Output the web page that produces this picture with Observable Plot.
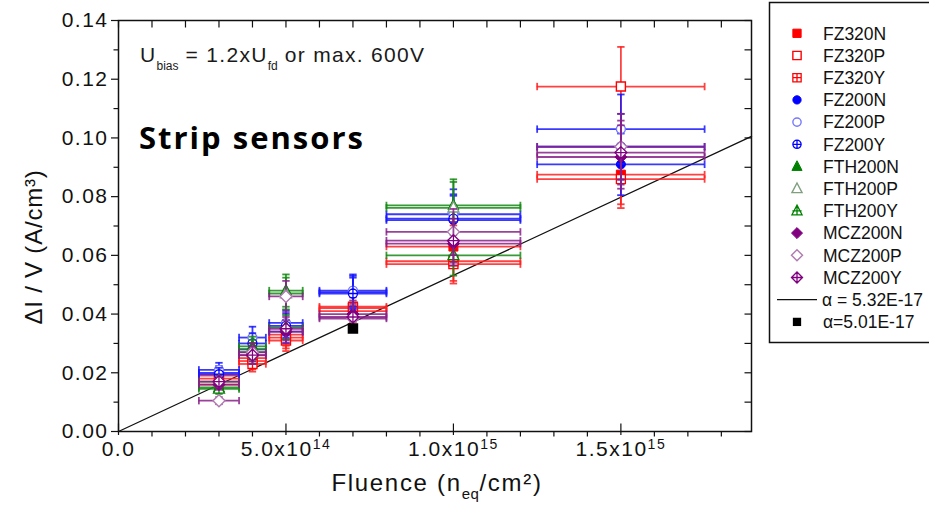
<!DOCTYPE html>
<html>
<head>
<meta charset="utf-8">
<script src="https://cdn.jsdelivr.net/npm/d3@7"></script>
<script src="https://cdn.jsdelivr.net/npm/@observablehq/plot@0.6"></script>
<style>
  html, body { margin: 0; padding: 0; background: #fff; }
  #chart svg { display: block; }
</style>
</head>
<body>
<div id="chart"></div>
<script>
// Leakage current per volume (ΔI/V) versus fluence for irradiated strip sensors.

// Fluence points (n_eq/cm²) and their horizontal uncertainties
const fluences   = [3e14, 4e14, 5e14, 7e14, 1e15, 1.5e15];
const fluenceErr = [6e13, 4e13, 5e13, 1e14, 2e14, 2.5e14];

// ΔI/V (A/cm³) per sensor type; null = not measured
const FZ320N  = [0.016,  0.024, 0.032,  0.041,  0.063,  0.0875];
const FZ320P  = [0.018,  0.025, 0.031,  0.042,  0.057,  0.1175];
const FZ320Y  = [0.019,  0.023, 0.033,  0.0425, 0.058,  0.086];
const FZ200N  = [0.020,  0.028, 0.034,  0.0475, 0.072,  0.091];
const FZ200P  = [0.021,  0.032, 0.037,  0.048,  0.074,  0.103];
const FZ200Y  = [0.0195, 0.030, 0.036,  0.047,  0.0725, 0.097];
const FTH200N = [0.015,  0.029, 0.048,  null,   0.077,  null];
const FTH200P = [0.017,  0.027, 0.047,  null,   0.0762, null];
const FTH200Y = [0.0145, 0.028, 0.0355, null,   0.060,  null];
const MCZ200N = [0.016,  0.026, 0.034,  0.040,  0.064,  0.0935];
const MCZ200P = [0.0105, 0.027, 0.046,  0.0385, 0.068,  0.097];
const MCZ200Y = [0.017,  0.026, 0.035,  0.039,  0.065,  0.095];

// Vertical uncertainties (A/cm³)
const FZ320N_err  = [0.0018, 0.0028, 0.0037, 0.0047, 0.0072, 0.0101];
const FZ320P_err  = [0.0021, 0.0029, 0.0036, 0.0048, 0.0066, 0.0135];
const FZ320Y_err  = [0.0022, 0.0026, 0.0038, 0.0049, 0.0067, 0.0099];
const FZ200N_err  = [0.0023, 0.0032, 0.0039, 0.0055, 0.0083, 0.0105];
const FZ200P_err  = [0.0024, 0.0037, 0.0043, 0.0055, 0.0085, 0.0118];
const FZ200Y_err  = [0.0022, 0.0035, 0.0041, 0.0054, 0.0083, 0.0112];
const FTH200N_err = [0.0017, 0.0033, 0.0055, null,   0.0089, null];
const FTH200P_err = [0.0020, 0.0031, 0.0054, null,   0.0088, null];
const FTH200Y_err = [0.0017, 0.0032, 0.0041, null,   0.0069, null];
const MCZ200N_err = [0.0018, 0.0030, 0.0039, 0.0046, 0.0074, 0.0108];
const MCZ200P_err = [0.0012, 0.0031, 0.0053, 0.0044, 0.0078, 0.0112];
const MCZ200Y_err = [0.0020, 0.0030, 0.0040, 0.0045, 0.0075, 0.0109];

// Current-related damage rates
const alphaFit = 5.32e-17;          // fitted line
const alphaPoint = 5.01e-17;        // single reference measurement
const alphaPointFluence = 7e14;
const alphaFitLabel = "α = 5.32E-17";
const alphaPointLabel = "α=5.01E-17";

// Axes
const xDomain = [0, 1.89e15];
const yDomain = [0, 0.14];
const xMajorTicks = [0, 5e14, 1e15, 1.5e15];
const xTickLabels = ["0.0", "5.0x10^14", "1.0x10^15", "1.5x10^15"];
const xMinorTicks = d3.range(1, 19).map(k => k * 1e14).filter(v => !xMajorTicks.includes(v));
const xAllTicks = d3.range(0, 19).map(k => k * 1e14);
const yMajorTicks = [0, 0.02, 0.04, 0.06, 0.08, 0.10, 0.12, 0.14];
const yTickLabels = ["0.00", "0.02", "0.04", "0.06", "0.08", "0.10", "0.12", "0.14"];
const yMinorTicks = [0.01, 0.03, 0.05, 0.07, 0.09, 0.11, 0.13];
const yAllTicks = d3.range(0, 15).map(k => k / 100);

const xTitle = ["Fluence (n", "eq", "/cm²)"];
const yTitle = "ΔI / V (A/cm³)";
const biasNote = ["U", "bias", " = 1.2xU", "fd", " or max. 600V"];
const panelTitle = "Strip sensors";

// ---- marker shapes (radius a = sqrt(size/π)) ----
const rad = size => Math.sqrt(size / Math.PI);
const hLine = { draw(c, s) { const l = rad(s); c.moveTo(-l, 0); c.lineTo(l, 0); } };
const vLine = { draw(c, s) { const l = rad(s); c.moveTo(0, -l); c.lineTo(0, l); } };
function squarePath(c, a) { const h = a * 0.9; c.moveTo(-h, -h); c.lineTo(h, -h); c.lineTo(h, h); c.lineTo(-h, h); c.closePath(); return h; }
function circlePath(c, a) { const h = a * 0.9; c.moveTo(h, 0); c.arc(0, 0, h, 0, 2 * Math.PI); c.closePath(); return h; }
function trianglePath(c, a) { const w = a * 1.1, t = a * 1.25, b = a * 0.85; c.moveTo(0, -t); c.lineTo(w, b); c.lineTo(-w, b); c.closePath(); return a; }
function diamondPath(c, a) { const h = a * 1.2; c.moveTo(0, -h); c.lineTo(h, 0); c.lineTo(0, h); c.lineTo(-h, 0); c.closePath(); return h; }
function plusPath(c, h) { c.moveTo(-h, 0); c.lineTo(h, 0); c.moveTo(0, -h); c.lineTo(0, h); }
const shapes = { square: squarePath, circle: circlePath, triangle: trianglePath, diamond: diamondPath };
function makeSymbol(shape, crossed) {
  return { draw(c, s) { const h = shapes[shape](c, rad(s)); if (crossed) plusPath(c, h); } };
}

const palette = {
  red:    { main: "#ff0000", bar: "#ff2020", open: "#ff0000" },
  blue:   { main: "#0000ff", bar: "#1818ff", open: "#7878ff" },
  green:  { main: "#008000", bar: "#158a15", open: "#7fa07f" },
  purple: { main: "#800080", bar: "#882088", open: "#b07ab0" }
};

const series = [
  { name: "FZ320N",  values: FZ320N,  errors: FZ320N_err,  color: "red",    shape: "square",   kind: "N" },
  { name: "FZ320P",  values: FZ320P,  errors: FZ320P_err,  color: "red",    shape: "square",   kind: "P" },
  { name: "FZ320Y",  values: FZ320Y,  errors: FZ320Y_err,  color: "red",    shape: "square",   kind: "Y" },
  { name: "FZ200N",  values: FZ200N,  errors: FZ200N_err,  color: "blue",   shape: "circle",   kind: "N" },
  { name: "FZ200P",  values: FZ200P,  errors: FZ200P_err,  color: "blue",   shape: "circle",   kind: "P" },
  { name: "FZ200Y",  values: FZ200Y,  errors: FZ200Y_err,  color: "blue",   shape: "circle",   kind: "Y" },
  { name: "FTH200N", values: FTH200N, errors: FTH200N_err, color: "green",  shape: "triangle", kind: "N" },
  { name: "FTH200P", values: FTH200P, errors: FTH200P_err, color: "green",  shape: "triangle", kind: "P" },
  { name: "FTH200Y", values: FTH200Y, errors: FTH200Y_err, color: "green",  shape: "triangle", kind: "Y" },
  { name: "MCZ200N", values: MCZ200N, errors: MCZ200N_err, color: "purple", shape: "diamond",  kind: "N" },
  { name: "MCZ200P", values: MCZ200P, errors: MCZ200P_err, color: "purple", shape: "diamond",  kind: "P" },
  { name: "MCZ200Y", values: MCZ200Y, errors: MCZ200Y_err, color: "purple", shape: "diamond",  kind: "Y" }
];

function markerStyle(s) {
  const p = palette[s.color];
  if (s.kind === "N") return { fill: p.main, stroke: p.main, strokeWidth: 1 };
  if (s.kind === "P") return { fill: "white", stroke: p.open, strokeWidth: 1.4 };
  return { fill: "white", stroke: p.main, strokeWidth: 1.3 };
}

const markerR = 5;
const capR = 3.7;

const seriesMarks = series.flatMap(s => {
  const p = palette[s.color];
  const rows = fluences.map((f, i) => ({ f, fe: fluenceErr[i], v: s.values[i], e: s.errors[i] }))
    .filter(d => d.v != null);
  const yCaps = rows.flatMap(d => [{ x: d.f, y: d.v - d.e }, { x: d.f, y: d.v + d.e }]);
  const xCaps = rows.flatMap(d => [{ x: d.f - d.fe, y: d.v }, { x: d.f + d.fe, y: d.v }]);
  const bar = { stroke: p.bar, strokeWidth: 1.8, strokeOpacity: 0.85 };
  const sym = makeSymbol(s.shape, s.kind === "Y");
  return [
    Plot.ruleY(rows, { y: "v", x1: d => d.f - d.fe, x2: d => d.f + d.fe, ...bar }),
    Plot.ruleX(rows, { x: "f", y1: d => d.v - d.e, y2: d => d.v + d.e, ...bar }),
    Plot.dot(yCaps, { x: "x", y: "y", symbol: hLine, r: capR, fill: "none", ...bar }),
    Plot.dot(xCaps, { x: "x", y: "y", symbol: vLine, r: capR, fill: "none", ...bar }),
    Plot.dot(rows, { x: "f", y: "v", symbol: sym, r: markerR, ...markerStyle(s) })
  ];
});

const tickStroke = { stroke: "#111", strokeWidth: 1.2, fill: "none" };
const squareSym = makeSymbol("square", false);

const chart = Plot.plot({
  width: 929,
  height: 508,
  marginLeft: 118,
  marginRight: 178,
  marginTop: 20,
  marginBottom: 77,
  x: { domain: xDomain, axis: null },
  y: { domain: yDomain, axis: null },
  style: { fontFamily: "'Liberation Sans', Arial, sans-serif", fontSize: "21px", color: "#111", background: "#fff" },
  marks: [
    // fitted damage-rate line
    Plot.line(xDomain, { x: d => d, y: d => alphaFit * d, stroke: "#111", strokeWidth: 1.3 }),
    ...seriesMarks,
    // reference point
    Plot.dot([alphaPointFluence], { x: d => d, y: d => alphaPoint * d, symbol: squareSym, r: 5, fill: "#000", stroke: "#000" }),

    // axes: labels with outward major ticks
    Plot.axisY({ anchor: "left", ticks: yMajorTicks, tickSize: 7, tickPadding: 3,
      tickFormat: v => yTickLabels[yMajorTicks.indexOf(v)], label: null, fontSize: 21, stroke: "#111", strokeWidth: 1.2 }),
    Plot.axisX({ anchor: "bottom", ticks: xMajorTicks, tickSize: 4, tickPadding: 6,
      tickFormat: v => xTickLabels[xMajorTicks.indexOf(v)], label: null, fontSize: 21, stroke: "#111", strokeWidth: 1.2 }),
    // minor ticks (left, bottom) pointing outward
    Plot.dot(yMinorTicks, { x: () => xDomain[0], y: d => d, symbol: hLine, r: 2.5, dx: -2.5, ...tickStroke }),
    Plot.dot(xMinorTicks, { x: d => d, y: () => yDomain[0], symbol: vLine, r: 2.5, dy: 2.5, ...tickStroke }),
    // inward part of the bottom major ticks
    Plot.dot(xMajorTicks, { x: d => d, y: () => yDomain[0], symbol: vLine, r: 4, dy: -4, ...tickStroke }),
    // inward ticks on the right and top edges
    Plot.dot(yAllTicks, { x: () => xDomain[1], y: d => d, symbol: hLine, r: 3.5, dx: -3.5, ...tickStroke }),
    Plot.dot(xAllTicks, { x: d => d, y: () => yDomain[1], symbol: vLine, r: 3.5, dy: 3.5, ...tickStroke }),
    Plot.frame({ stroke: "#111", strokeWidth: 1.5 })
  ]
});

document.getElementById("chart").append(chart);
const svg = d3.select(chart);

// superscript exponents in x tick labels
svg.selectAll('g[aria-label="x-axis tick label"] text').each(function () {
  const [base, exp] = this.textContent.split("^");
  if (!exp) return;
  const t = d3.select(this);
  t.text(null);
  t.append("tspan").text(base);
  t.append("tspan").attr("dy", "-0.5em").attr("font-size", 14).text(exp);
});
svg.selectAll('g[aria-label="x-axis tick label"], g[aria-label="y-axis tick label"]')
  .style("letter-spacing", "1.5px");

// axis titles
const xt = svg.append("text").attr("x", 437).attr("y", 491).attr("text-anchor", "middle")
  .attr("font-size", 24).attr("fill", "#111").style("letter-spacing", "1.7px");
xt.append("tspan").text(xTitle[0]);
xt.append("tspan").attr("dy", 8).attr("font-size", 15).style("letter-spacing", "0.5px").text(xTitle[1]);
xt.append("tspan").attr("dy", -8).text(xTitle[2]);

svg.append("text").attr("transform", "translate(42,247) rotate(-90)").attr("text-anchor", "middle")
  .attr("font-size", 24).attr("fill", "#111").style("letter-spacing", "0.8px").text(yTitle);

// bias condition note
const note = svg.append("text").attr("x", 140).attr("y", 62).attr("text-anchor", "start")
  .attr("font-size", 21).attr("fill", "#1a1a1a").style("letter-spacing", "1.3px");
note.append("tspan").text(biasNote[0]);
note.append("tspan").attr("dy", 8).attr("font-size", 12).style("letter-spacing", "0px").text(biasNote[1]);
note.append("tspan").attr("dy", -8).text(biasNote[2]);
note.append("tspan").attr("dy", 8).attr("font-size", 12).style("letter-spacing", "0px").text(biasNote[3]);
note.append("tspan").attr("dy", -8).text(biasNote[4]);

svg.append("text").attr("x", 139).attr("y", 149).attr("text-anchor", "start")
  .attr("font-size", 31).attr("font-weight", "bold")
  .attr("font-family", "'Open Sans', sans-serif").attr("fill", "#000").style("letter-spacing", "2px")
  .text(panelTitle);

// legend box
const lg = svg.append("g").attr("font-size", 17.5).attr("fill", "#111").attr("text-anchor", "start");
lg.append("rect").attr("x", 769.5).attr("y", 2.5).attr("width", 200).attr("height", 340)
  .attr("fill", "white").attr("stroke", "#111").attr("stroke-width", 1.5);
const rowY = i => 33.3 + i * 22.2;
series.forEach((s, i) => {
  const st = markerStyle(s);
  const sym = makeSymbol(s.shape, s.kind === "Y");
  lg.append("path").attr("transform", `translate(797,${rowY(i)})`)
    .attr("d", d3.symbol(sym, 4.6 * 4.6 * Math.PI)())
    .attr("fill", st.fill).attr("stroke", st.stroke).attr("stroke-width", st.strokeWidth);
  lg.append("text").attr("x", 823).attr("y", rowY(i)).attr("dy", "0.36em").text(s.name);
});
const iLine = series.length, iPt = series.length + 1;
lg.append("line").attr("x1", 777).attr("x2", 817).attr("y1", rowY(iLine)).attr("y2", rowY(iLine))
  .attr("stroke", "#111").attr("stroke-width", 1.3);
lg.append("text").attr("x", 822).attr("y", rowY(iLine)).attr("dy", "0.36em").text(alphaFitLabel);
lg.append("path").attr("transform", `translate(797,${rowY(iPt)})`)
  .attr("d", d3.symbol(squareSym, 4.6 * 4.6 * Math.PI)()).attr("fill", "#000");
lg.append("text").attr("x", 823).attr("y", rowY(iPt)).attr("dy", "0.36em").text(alphaPointLabel);
</script>
</body>
</html>
